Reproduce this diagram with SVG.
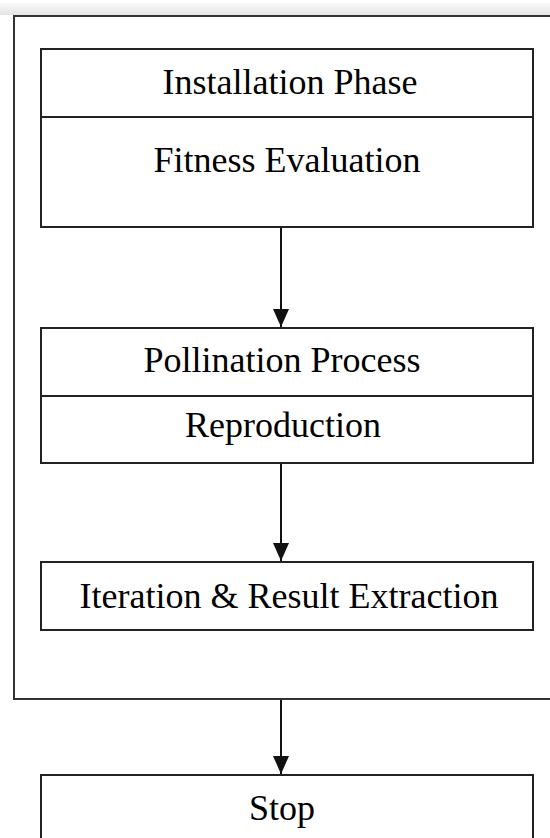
<svg xmlns="http://www.w3.org/2000/svg" width="550" height="838" viewBox="0 0 550 838">
  <defs>
    <linearGradient id="topband" x1="0" y1="0" x2="0" y2="1">
      <stop offset="0" stop-color="#fafafa"/>
      <stop offset="1" stop-color="#e4e4e4"/>
    </linearGradient>
    <marker id="arrow" markerWidth="18" markerHeight="16" refX="18" refY="8" orient="auto" markerUnits="userSpaceOnUse" viewBox="0 0 18 16">
      <path d="M0,0 L18,8 L0,16 Z" fill="#111"/>
    </marker>
  </defs>
  <style>
    .box { fill: #fff; stroke: #222; stroke-width: 2; }
    .frame { fill: none; stroke: #333; stroke-width: 2; }
    .div { stroke: #222; stroke-width: 2; }
    .lbl { font-size: 36px; fill: #000; text-anchor: middle; }
    .conn { stroke: #111; stroke-width: 2; fill: none; }
  </style>
  <rect x="0" y="0" width="550" height="838" fill="#fff"/>
  <rect x="0" y="3" width="550" height="12" fill="url(#topband)"/>

  <g id="frame">
    <rect class="frame" x="14" y="16" width="560" height="683"/>
  </g>

  <g font-family="'Liberation Serif', 'Times New Roman', Times, serif">
    <g id="node-installation">
      <rect class="box" x="41" y="49" width="492" height="178"/>
      <line class="div" x1="41" y1="117" x2="533" y2="117"/>
      <text class="lbl" x="290" y="94">Installation Phase</text>
      <text class="lbl" x="287" y="172">Fitness Evaluation</text>
    </g>

    <g id="node-pollination">
      <rect class="box" x="41" y="328" width="492" height="135"/>
      <line class="div" x1="41" y1="396" x2="533" y2="396"/>
      <text class="lbl" x="282" y="372">Pollination Process</text>
      <text class="lbl" x="283" y="437">Reproduction</text>
    </g>

    <g id="node-iteration">
      <rect class="box" x="41" y="562" width="492" height="68"/>
      <text class="lbl" x="289" y="608">Iteration &amp; Result Extraction</text>
    </g>

    <g id="node-stop">
      <rect class="box" x="41" y="775" width="492" height="80"/>
      <text class="lbl" x="282" y="820">Stop</text>
    </g>
  </g>

  <g id="connectors">
    <line class="conn" x1="281" y1="228" x2="281" y2="327" marker-end="url(#arrow)"/>
    <line class="conn" x1="281" y1="464" x2="281" y2="561" marker-end="url(#arrow)"/>
    <line class="conn" x1="281" y1="700" x2="281" y2="774" marker-end="url(#arrow)"/>
  </g>
</svg>
